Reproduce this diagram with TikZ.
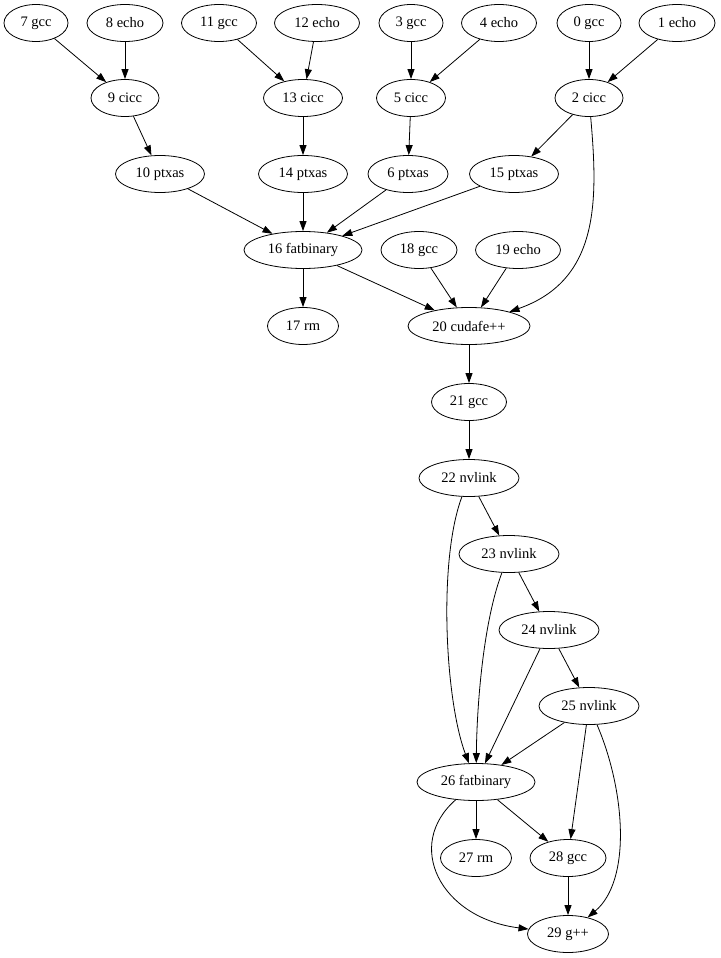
\documentclass[tikz,border=0pt]{standalone}
\usepackage{fontspec}
\setmainfont{Liberation Serif}
\usetikzlibrary{shapes.geometric,arrows.meta}
\begin{document}
\begin{tikzpicture}[x=1pt,y=-1pt,
  nd/.style={draw,ellipse,inner sep=0pt,minimum height=37pt,line width=0.8pt,font=\fontsize{14.5}{16}\selectfont},
  ed/.style={draw,line width=0.8pt,-{Triangle[length=10pt,width=7pt]}}]
\useasboundingbox (0,0) rectangle (720,958);
% row 1
\node[nd,minimum width=64] (n7) at (36,23) {7 gcc};
\node[nd,minimum width=76] (n8) at (125,23) {8 echo};
\node[nd,minimum width=75] (n11) at (219,23) {11 gcc};
\node[nd,minimum width=85] (n12) at (317,23) {12 echo};
\node[nd,minimum width=64] (n3) at (411,23) {3 gcc};
\node[nd,minimum width=75] (n4) at (499,23) {4 echo};
\node[nd,minimum width=64] (n0) at (589,23) {0 gcc};
\node[nd,minimum width=76] (n1) at (677,23) {1 echo};
% row 2
\node[nd,minimum width=68] (n9) at (125,98) {9 cicc};
\node[nd,minimum width=79] (n13) at (303,98) {13 cicc};
\node[nd,minimum width=69] (n5) at (411,98) {5 cicc};
\node[nd,minimum width=68] (n2) at (589,98) {2 cicc};
% row 3
\node[nd,minimum width=89] (n10) at (160,174) {10 ptxas};
\node[nd,minimum width=89] (n14) at (303,174) {14 ptxas};
\node[nd,minimum width=80] (n6) at (408,174) {6 ptxas};
\node[nd,minimum width=89] (n15) at (514,174) {15 ptxas};
% row 4
\node[nd,minimum width=118] (n16) at (303,250) {16 fatbinary};
\node[nd,minimum width=76] (n18) at (419,250) {18 gcc};
\node[nd,minimum width=85] (n19) at (518,250) {19 echo};
% row 5
\node[nd,minimum width=71] (n17) at (303,326) {17 rm};
\node[nd,minimum width=122] (n20) at (469,326) {20 cudafe++};
% lower
\node[nd,minimum width=75] (n21) at (469,402) {21 gcc};
\node[nd,minimum width=100] (n22) at (469,478) {22 nvlink};
\node[nd,minimum width=100] (n23) at (509,554) {23 nvlink};
\node[nd,minimum width=100] (n24) at (549,630) {24 nvlink};
\node[nd,minimum width=100] (n25) at (589,706) {25 nvlink};
\node[nd,minimum width=118] (n26) at (476,782) {26 fatbinary};
\node[nd,minimum width=71] (n27) at (476,858) {27 rm};
\node[nd,minimum width=76] (n28) at (568,858) {28 gcc};
\node[nd,minimum width=81] (n29) at (568,934) {29 g++};
% edges
\draw[ed] (n7) -- (n9);
\draw[ed] (n8) -- (n9);
\draw[ed] (n11) -- (n13);
\draw[ed] (n12) -- (n13);
\draw[ed] (n3) -- (n5);
\draw[ed] (n4) -- (n5);
\draw[ed] (n0) -- (n2);
\draw[ed] (n1) -- (n2);
\draw[ed] (n9) -- (n10);
\draw[ed] (n13) -- (n14);
\draw[ed] (n5) -- (n6);
\draw[ed] (n2) -- (n15);
\draw[ed] (n10) -- (n16);
\draw[ed] (n14) -- (n16);
\draw[ed] (n6) -- (n16);
\draw[ed] (n15) -- (n16);
\draw[ed] (n16) -- (n17);
\draw[ed] (n16) -- (n20);
\draw[ed] (n18) -- (n20);
\draw[ed] (n19) -- (n20);
\draw[ed] (n2) .. controls (598,200) and (600,280) .. (n20);
\draw[ed] (n20) -- (n21);
\draw[ed] (n21) -- (n22);
\draw[ed] (n22) -- (n23);
\draw[ed] (n23) -- (n24);
\draw[ed] (n24) -- (n25);
\draw[ed] (n22) .. controls (438,560) and (445,700) .. (n26);
\draw[ed] (n23) .. controls (484,620) and (477,700) .. (n26);
\draw[ed] (n24) -- (n26);
\draw[ed] (n25) -- (n26);
\draw[ed] (n25) -- (n28);
\draw[ed] (n25) .. controls (625,790) and (632,880) .. (n29);
\draw[ed] (n26) -- (n27);
\draw[ed] (n26) -- (n28);
\draw[ed] (n26) .. controls (404,845) and (440,918) .. (n29);
\draw[ed] (n28) -- (n29);
\end{tikzpicture}
\end{document}
